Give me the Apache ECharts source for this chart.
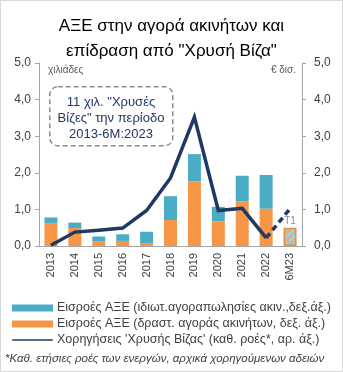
<!DOCTYPE html>
<html>
<head>
<meta charset="utf-8">
<script src="https://cdn.jsdelivr.net/npm/echarts@6/dist/echarts.min.js"></script>
<style>
  html, body { margin: 0; padding: 0; background: #fff; }
  #chart { width: 343px; height: 372px; box-sizing: border-box; border: 1px solid #d9d9d9; }
</style>
</head>
<body>
<div id="chart"></div>
<script>
// Categories: years plus first half of 2023
const categories = ['2013', '2014', '2015', '2016', '2017', '2018', '2019', '2020', '2021', '2022', '6M23'];

// FDI inflows into real estate, € bn (right axis)
const fdiPrivateSales = [0.15, 0.15, 0.13, 0.18, 0.31, 0.65, 0.74, 0.40, 0.70, 0.92, null];   // private sales of property
const fdiRealEstate   = [0.63, 0.49, 0.13, 0.14, 0.08, 0.71, 1.77, 0.67, 1.22, 1.02, null];   // real estate activities
const fdiFirstHalf23  = [null, null, null, null, null, null, null, null, null, null, 0.50];   // 2023 Q1 (total)

// Golden Visa grants, thousands, annual net flows (left axis)
const goldenVisa      = [0.02, 0.38, 0.43, 0.49, 0.97, 1.86, 3.52, 0.97, 1.03, 0.22, null];
const goldenVisaH1    = [null, null, null, null, null, null, null, null, null, 0.22, 1.02];

const axisTicks = [0, 1, 2, 3, 4, 5];

const BLUE = '#4bacc6';
const ORANGE = '#f79646';
const NAVY = '#1f3864';
const FONT = '"Liberation Sans", "DejaVu Sans", sans-serif';

// Hatched fill for the partial-year bar: light blue with orange diagonals
function hatch() {
  const s = 7;
  const c = document.createElement('canvas');
  c.width = s; c.height = s;
  const g = c.getContext('2d');
  g.fillStyle = '#94d0e6';
  g.fillRect(0, 0, s, s);
  g.strokeStyle = '#f7a564';
  g.lineWidth = 1.6;
  g.beginPath();
  g.moveTo(-1, s + 1); g.lineTo(s + 1, -1);
  g.moveTo(-1, 1); g.lineTo(1, -1);
  g.moveTo(s - 1, s + 1); g.lineTo(s + 1, s - 1);
  g.stroke();
  return c;
}

const fmt = v => v.toFixed(1).replace('.', ',');

const chart = echarts.init(document.getElementById('chart'), null, { renderer: 'canvas' });

const legendNames = [
  'Εισροές ΑΞΕ (ιδιωτ.αγοραπωλησίες ακιν.,δεξ.άξ.)',
  'Εισροές ΑΞΕ (δραστ. αγοράς ακινήτων, δεξ. άξ.)',
  "Χορηγήσεις 'Χρυσής Βίζας' (καθ. ροές*, αρ. άξ.)"
];

chart.setOption({
  animation: false,
  textStyle: { fontFamily: FONT },
  title: {
    text: 'ΑΞΕ στην αγορά ακινήτων και\nεπίδραση από "Χρυσή Βίζα"',
    left: 'center',
    top: 8,
    textStyle: { fontSize: 17, fontWeight: 'normal', color: '#000', lineHeight: 25, fontFamily: FONT }
  },
  grid: { left: 38, right: 40, top: 62, bottom: 125 },
  legend: {
    orient: 'vertical',
    left: 11,
    top: 300,
    padding: 0,
    itemWidth: 41,
    itemHeight: 7,
    itemGap: 2,
    textStyle: { fontSize: 12.5, lineHeight: 14, color: '#404040', fontFamily: FONT, padding: [0, 0, 0, -1] },
    data: [
      { name: legendNames[0], icon: 'rect' },
      { name: legendNames[1], icon: 'rect' },
      { name: legendNames[2], icon: 'path://M2,0 L98,0 A2,2 0 0 1 98,4 L2,4 A2,2 0 0 1 2,0 Z' }
    ]
  },
  xAxis: {
    type: 'category',
    data: categories,
    axisLine: { lineStyle: { color: '#a6a6a6' } },
    axisTick: { show: false },
    axisLabel: { rotate: 90, fontSize: 11, color: '#404040', margin: 7 }
  },
  yAxis: [
    {
      type: 'value', min: 0, max: 5, interval: 1, position: 'left',
      splitLine: { show: false },
      axisLine: { show: true, lineStyle: { color: '#a6a6a6' } },
      axisTick: { show: true, length: 4, lineStyle: { color: '#a6a6a6' } },
      axisLabel: { fontSize: 12, color: '#404040', margin: 8, formatter: fmt },
      customValues: axisTicks
    },
    {
      type: 'value', min: 0, max: 5, interval: 1, position: 'right',
      splitLine: { show: false },
      axisLine: { show: true, lineStyle: { color: '#a6a6a6' } },
      axisTick: { show: true, length: 4, lineStyle: { color: '#a6a6a6' } },
      axisLabel: { fontSize: 12, color: '#404040', margin: 12, formatter: fmt }
    }
  ],
  series: [
    {
      name: legendNames[1], type: 'bar', stack: 'fdi', yAxisIndex: 1,
      barWidth: 13, data: fdiRealEstate,
      itemStyle: { color: ORANGE }
    },
    {
      name: legendNames[0], type: 'bar', stack: 'fdi', yAxisIndex: 1,
      barWidth: 13, data: fdiPrivateSales,
      itemStyle: { color: BLUE }
    },
    {
      name: 'H1 2023', type: 'bar', stack: 'fdi', yAxisIndex: 1,
      barWidth: 13, data: fdiFirstHalf23,
      itemStyle: { color: { image: hatch(), repeat: 'repeat' }, borderColor: '#f08a3c', borderWidth: 1.6 },
      label: { show: true, position: 'top', distance: 1, formatter: 'T1', fontSize: 10, color: '#8c8c8c' }
    },
    {
      name: legendNames[2], type: 'line', yAxisIndex: 0,
      data: goldenVisa, showSymbol: false, symbol: 'none',
      lineStyle: { color: NAVY, width: 3.5, cap: 'butt', join: 'miter' },
      itemStyle: { color: NAVY }, z: 5
    },
    {
      name: 'Golden Visa H1', type: 'line', yAxisIndex: 0,
      data: goldenVisaH1, showSymbol: false, symbol: 'none',
      lineStyle: { color: NAVY, width: 3.5, type: [6, 4], cap: 'butt' },
      itemStyle: { color: NAVY }, z: 5
    }
  ],
  graphic: [
    { type: 'text', left: 47, top: 64, style: { text: 'χιλιάδες', fontSize: 10, fill: '#595959', fontFamily: FONT } },
    { type: 'text', right: 46, top: 64, style: { text: '€ δισ.', fontSize: 10, fill: '#595959', fontFamily: FONT } },
    {
      type: 'rect', left: 48, top: 85,
      shape: { width: 123, height: 59, r: 8 },
      style: { fill: 'rgba(255,255,255,0)', stroke: '#8c8c8c', lineWidth: 1.5, lineDash: [5, 3] }
    },
    {
      type: 'text', x: 110, y: 93,
      style: {
        text: '11 χιλ. "Χρυσές\nΒίζες" την περίοδο\n2013-6Μ:2023',
        fontSize: 13, lineHeight: 16, fill: NAVY, align: 'center', fontFamily: FONT
      }
    },
    {
      type: 'text', left: 4, top: 352,
      style: { text: '*Καθ. ετήσιες ροές των ενεργών, αρχικά χορηγούμενων αδειών', fontSize: 11.5, fontStyle: 'italic', fill: '#404040', fontFamily: FONT }
    }
  ]
});
</script>
</body>
</html>
